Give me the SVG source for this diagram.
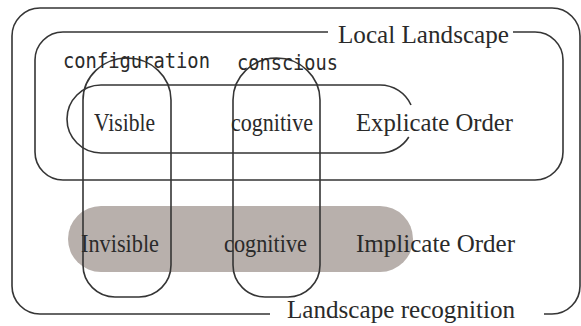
<svg xmlns="http://www.w3.org/2000/svg" width="581" height="326" viewBox="0 0 581 326">
<style>
.ln{fill:none;stroke:#353535;stroke-width:1.6}
.serif{font-family:"Liberation Serif","Times New Roman",serif;font-size:26px;fill:#2a2a2a}
.mono{font-family:"DejaVu Sans Mono","Liberation Mono",monospace;font-size:21px;fill:#2a2a2a}
</style>
<rect width="581" height="326" fill="#ffffff"/>
<g id="implicate-band">
<rect x="68" y="206" width="345" height="66" rx="33" fill="#b8b0ac"/>
</g>
<g id="landscape-recognition">
<path class="ln" d="M270,314 H40 A28,28 0 0 1 12,286 V36 A28,28 0 0 1 40,8 H552 A28,28 0 0 1 580,36 V286 A28,28 0 0 1 552,314 H544"/>
<text class="serif" font-family="Liberation Serif, serif" x="287" y="318" textLength="228" lengthAdjust="spacingAndGlyphs">Landscape recognition</text>
</g>
<g id="local-landscape">
<path class="ln" d="M328,32 H63 A28,28 0 0 0 35,60 V152 A28,28 0 0 0 63,180 H535 A28,28 0 0 0 563,152 V60 A28,28 0 0 0 535,32 H513"/>
<text class="serif" font-family="Liberation Serif, serif" x="338" y="43" textLength="171" lengthAdjust="spacingAndGlyphs">Local Landscape</text>
</g>
<g id="explicate-order">
<path class="ln" d="M408.8,137 A34,34 0 0 1 380,153 H101 A34,34 0 0 1 101,85 H380 A34,34 0 0 1 411,105"/>
<text class="serif" font-family="Liberation Serif, serif" x="356" y="131" textLength="157" lengthAdjust="spacingAndGlyphs">Explicate Order</text>
</g>
<g id="configuration">
<path class="ln" d="M83,100 A44,42 0 0 1 171,100 V265 A32,32 0 0 1 139,297 H115 A32,32 0 0 1 83,265 Z"/>
<text class="mono" font-family="DejaVu Sans Mono, monospace" x="63" y="68" textLength="147" lengthAdjust="spacingAndGlyphs">configuration</text>
</g>
<g id="conscious">
<path class="ln" d="M233,100 A43.5,42 0 0 1 320,100 V265 A32,32 0 0 1 288,297 H265 A32,32 0 0 1 233,265 Z"/>
<text class="mono" font-family="DejaVu Sans Mono, monospace" x="237" y="70" textLength="101" lengthAdjust="spacingAndGlyphs">conscious</text>
</g>
<g id="labels">
<text class="serif" font-family="Liberation Serif, serif" x="94" y="131" textLength="61" lengthAdjust="spacingAndGlyphs">Visible</text>
<text class="serif" font-family="Liberation Serif, serif" x="231" y="131" textLength="82" lengthAdjust="spacingAndGlyphs">cognitive</text>
<text class="serif" font-family="Liberation Serif, serif" x="81" y="252" textLength="78" lengthAdjust="spacingAndGlyphs">Invisible</text>
<text class="serif" font-family="Liberation Serif, serif" x="224" y="252" textLength="83" lengthAdjust="spacingAndGlyphs">cognitive</text>
<text class="serif" font-family="Liberation Serif, serif" x="356" y="252" textLength="159" lengthAdjust="spacingAndGlyphs">Implicate Order</text>
</g>
<g id="connectors"></g>
</svg>
